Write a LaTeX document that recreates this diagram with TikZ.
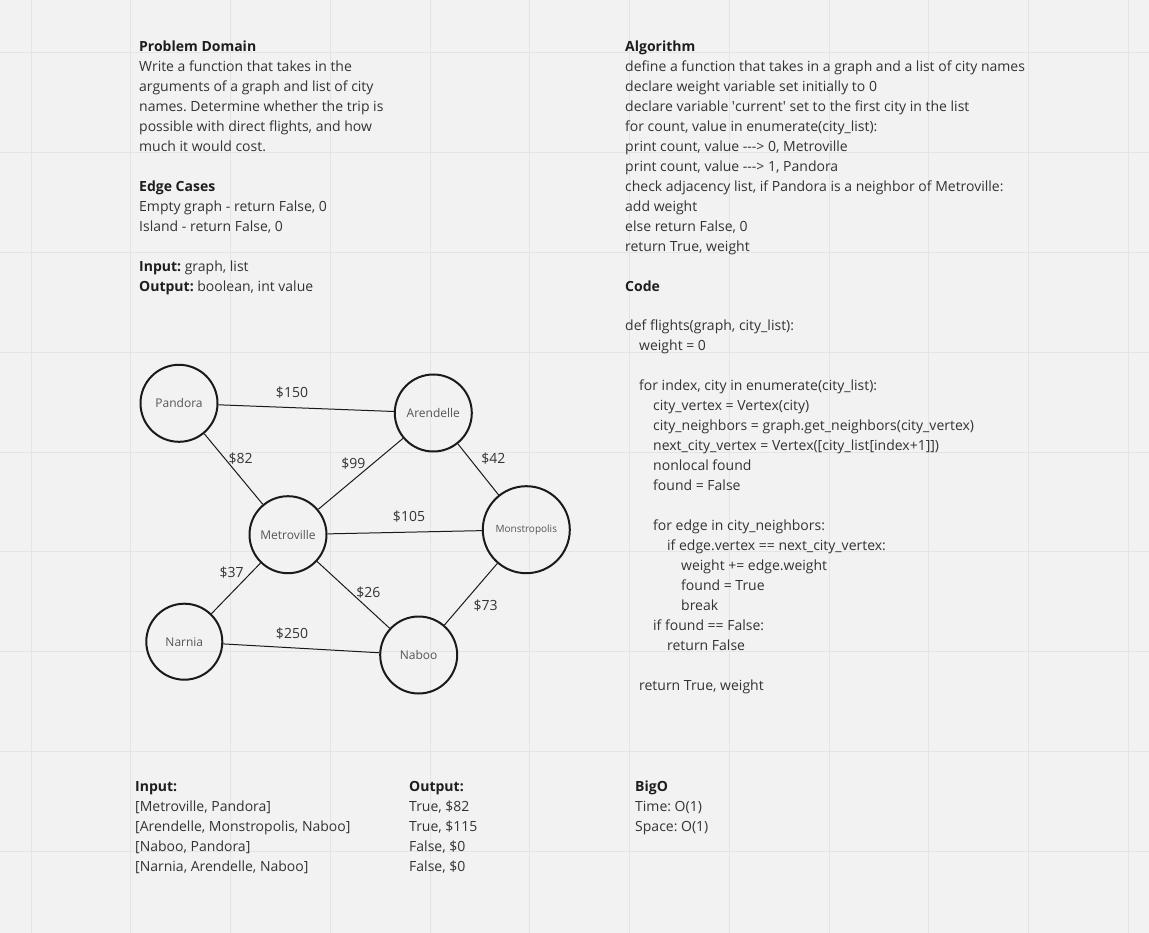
\documentclass[tikz,border=0pt]{standalone}
\usepackage{fontspec}
\setmainfont{Open Sans}
\frenchspacing
\definecolor{bg}{HTML}{F2F2F2}
\definecolor{gridc}{HTML}{E4E4E4}
\definecolor{txt}{HTML}{333333}
\definecolor{head}{HTML}{1E1E1E}
\definecolor{nodetxt}{HTML}{555555}
\definecolor{ink}{HTML}{1A1A1A}
\newcommand{\hd}[1]{{\color{head}\bfseries #1}}
\newcommand{\ind}[1]{\hspace*{#1pt}}
\newcommand{\arr}{-\kern0pt-\kern0pt-\kern0pt>}
\begin{document}
\begin{tikzpicture}[x=1pt,y=-1pt,
  block/.style={anchor=north west, inner sep=0pt, align=left, text=txt, font=\fontsize{14}{20}\selectfont\frenchspacing},
  city/.style={circle, draw=ink, line width=2pt, inner sep=0pt, minimum size=77pt, text=nodetxt, font=\fontsize{12}{14}\selectfont},
  road/.style={draw=ink, line width=1pt},
  cost/.style={text=txt, inner sep=0pt, font=\fontsize{14}{16}\selectfont}]
\fill[bg] (0,0) rectangle (1149,933);
\useasboundingbox (0,0) rectangle (1149,933);
\foreach \k in {0,...,11} \draw[gridc, line width=1pt] ({31+99.75*\k},0) -- ({31+99.75*\k},933);
\foreach \k in {0,...,8} \draw[gridc, line width=1pt] (0,{53+99.75*\k}) -- (1149,{53+99.75*\k});

% left text column
\node[block] (domain) at (139,37) {\strut\hd{Problem Domain}\\
Write a function that takes in the\\
arguments of a graph and list of city\\
names. Determine whether the trip is\\
possible with direct flights, and how\\
much it would cost.\\[20pt]
\hd{Edge Cases}\\
Empty graph - return False, 0\\
Island - return False, 0\\[20pt]
\hd{Input:} graph, list\\
\hd{Output:} boolean, int value};

% algorithm column
\node[block] (algorithm) at (625,37) {\strut\hd{Algorithm}\\
define a function that takes in a graph and a list of city names\\
declare weight variable set initially to 0\\
declare variable \textquotesingle current\textquotesingle\ set to the first city in the list\\
for count, value in enumerate(city\_list):\\
print count, value \arr\ 0, Metroville\\
print count, value \arr\ 1, Pandora\\
check adjacency list, if Pandora is a neighbor of Metroville:\\
add weight\\
else return False, 0\\
return True, weight\\[20pt]
\hd{Code}};

\node[block] (code) at (625,316) {\strut def flights(graph, city\_list):\\
\ind{14}weight = 0\\[20pt]
\ind{14}for index, city in enumerate(city\_list):\\
\ind{28}city\_vertex = Vertex(city)\\
\ind{28}city\_neighbors = graph.get\_neighbors(city\_vertex)\\
\ind{28}next\_city\_vertex = Vertex({[}city\_list{[}index+1{]}{]})\\
\ind{28}nonlocal found\\
\ind{28}found = False\\[20pt]
\ind{28}for edge in city\_neighbors:\\
\ind{42}if edge.vertex == next\_city\_vertex:\\
\ind{56}weight += edge.weight\\
\ind{56}found = True\\
\ind{56}break\\
\ind{28}if found == False:\\
\ind{42}return False\\[20pt]
\ind{14}return True, weight};

% bottom
\node[block] (inputs) at (135,777) {\strut\hd{Input:}\\
{[}Metroville, Pandora{]}\\
{[}Arendelle, Monstropolis, Naboo{]}\\
{[}Naboo, Pandora{]}\\
{[}Narnia, Arendelle, Naboo{]}};
\node[block] (outputs) at (409,777) {\strut\hd{Output:}\\
True, \$82\\
True, \$115\\
False, \$0\\
False, \$0};
\node[block] (bigo) at (635,777) {\strut\hd{BigO}\\
Time: O(1)\\
Space: O(1)};

% graph
\node[city] (pandora) at (179,403.3) {Pandora};
\node[city] (arendelle) at (433.3,413) {Arendelle};
\node[city] (metroville) at (288,534.7) {Metroville};
\node[city, minimum size=87pt, font=\fontsize{10}{12}\selectfont] (monstropolis) at (526.3,529.7) {Monstropolis};
\node[city, minimum size=76pt] (narnia) at (184.3,641.7) {Narnia};
\node[city] (naboo) at (418.7,655) {Naboo};

\draw[road] (pandora) -- (arendelle);
\draw[road] (pandora) -- (metroville);
\draw[road] (metroville) -- (arendelle);
\draw[road] (arendelle) -- (monstropolis);
\draw[road] (metroville) -- (monstropolis);
\draw[road] (metroville) -- (narnia);
\draw[road] (metroville) -- (naboo);
\draw[road] (monstropolis) -- (naboo);
\draw[road] (narnia) -- (naboo);

\node[cost] (c150) at (292,392.7) {\$150};
\node[cost] (c82) at (240.7,458.7) {\$82};
\node[cost] (c99) at (353.3,464) {\$99};
\node[cost] (c42) at (493.3,458.7) {\$42};
\node[cost] (c105) at (409,516.7) {\$105};
\node[cost] (c37) at (231.7,572.7) {\$37};
\node[cost] (c26) at (368.3,592.7) {\$26};
\node[cost] (c73) at (485.7,606) {\$73};
\node[cost] (c250) at (292,633.7) {\$250};
\end{tikzpicture}
\end{document}
